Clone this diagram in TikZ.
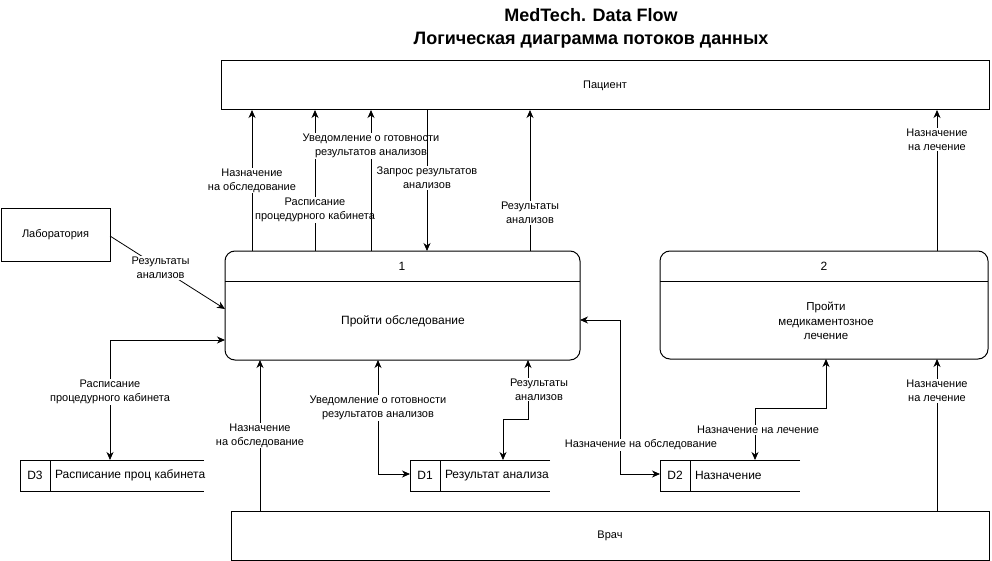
\documentclass[tikz,border=0pt]{standalone}
\usepackage{fontspec}
\setmainfont{Liberation Sans}
\usetikzlibrary{arrows.meta,calc}
\begin{document}
\begin{tikzpicture}[x=1pt,y=-1pt,
  every node/.style={font=\fontsize{11}{14}\selectfont, inner sep=0pt, outer sep=0pt},
  big/.style={font=\fontsize{12}{14}\selectfont},
  ext/.style={draw, line width=1pt, rectangle},
  proc/.style={draw, line width=1pt, rectangle, rounded corners=10pt},
  ghost/.style={rectangle},
  lab/.style={fill=white, align=center, inner sep=1pt},
  flow/.style={line width=0.8pt, -{Stealth[length=8pt,width=7pt,inset=2.5pt]}},
  flowboth/.style={line width=0.8pt, {Stealth[length=8pt,width=7pt,inset=2.5pt]}-{Stealth[length=8pt,width=7pt,inset=2.5pt]}},
  store/.style={line width=1pt}
]
\useasboundingbox (0,0) rectangle (992,561);

% title
\node[align=center, font=\fontsize{18}{23}\selectfont\bfseries] (title) at (591,28.5) {MedTech. Data Flow\\Логическая диаграмма потоков данных};

% externals
\node[ext, minimum width=768, minimum height=49] (pat) at (605,85.5) {Пациент};
\node[ext, minimum width=109, minimum height=52] (labr) at (55.5,235) {Лаборатория};
\node[ext, minimum width=758, minimum height=49] (vrach) at (610,535.5) {Врач};

% processes
\node[proc, minimum width=355, minimum height=109] (p1) at (402.5,305.5) {};
\draw[line width=1pt] (p1.west |- 0,281) -- (p1.east |- 0,281);
\node[big] (p1num) at (402,266) {1};
\node[big] (p1txt) at (403,321) {Пройти обследование};

\node[proc, minimum width=328, minimum height=108] (p2) at (824,305) {};
\draw[line width=1pt] (p2.west |- 0,281) -- (p2.east |- 0,281);
\node[big] (p2num) at (824,266) {2};
\node[align=center, font=\fontsize{11.5}{14.5}\selectfont] (p2txt) at (826,321) {Пройти\\медикаментозное\\лечение};

% data stores
\node[ghost, minimum width=184, minimum height=31] (d3) at (112,475.5) {};
\draw[store] (d3.north east) -- (d3.north west) -- (d3.south west) -- (d3.south east);
\draw[store] (50,460) -- (50,491);
\node[big] (d3id) at (35,475.5) {D3};
\node[big, anchor=west] (d3txt) at (55,475.5) {Расписание проц кабинета};

\node[ghost, minimum width=140, minimum height=31] (d1) at (480,475.5) {};
\draw[store] (d1.north east) -- (d1.north west) -- (d1.south west) -- (d1.south east);
\draw[store] (440,460) -- (440,491);
\node[big] (d1id) at (425,475.5) {D1};
\node[big, anchor=west] (d1txt) at (445,475.5) {Результат анализа};

\node[ghost, minimum width=140, minimum height=31] (d2) at (730,475.5) {};
\draw[store] (d2.north east) -- (d2.north west) -- (d2.south west) -- (d2.south east);
\draw[store] (690,460) -- (690,491);
\node[big] (d2id) at (675,475.5) {D2};
\node[big, anchor=west] (d2txt) at (695,475.5) {Назначение};

% flows between process 1 and patient
\draw[flow] (p1.north -| 252,0) -- node[lab, pos=0.5] {Назначение\\на обследование} (pat.south -| 252,0);
\draw[flow] (p1.north -| 315,0) -- node[lab, pos=0.29] {Расписание\\процедурного кабинета} (pat.south -| 315,0);
\draw[flow] (p1.north -| 371,0) -- node[lab, pos=0.745] {Уведомление о готовности\\результатов анализов} (pat.south -| 371,0);
\draw[flow] (pat.south -| 427,0) -- node[lab, pos=0.48] {Запрос результатов\\анализов} (p1.north -| 427,0);
\draw[flow] (p1.north -| 530,0) -- node[lab, pos=0.27] {Результаты\\анализов} (pat.south -| 530,0);

% laboratory
\draw[flow] (labr.east |- 0,236) -- node[lab, pos=0.44] {Результаты\\анализов} (p1.west |- 0,309);

% D3
\draw[flowboth] (d3.north -| 110,0) |- node[lab, pos=0.283] {Расписание\\процедурного кабинета} (p1.west |- 0,340);

% doctor to process 1
\draw[flow] (vrach.north -| 260,0) -- node[lab, pos=0.5] {Назначение\\на обследование} (p1.south -| 260,0);

% D1
\draw[flowboth] (p1.south -| 378,0) |- node[lab, pos=0.21] {Уведомление о готовности\\результатов анализов} (d1.west |- 0,474);
\draw[flowboth] (p1.south -| 528,0) -- node[lab, pos=0.5, xshift=11pt] {Результаты\\анализов} (528,419) -- (503,419) -- (d1.north -| 503,0);

% D2
\draw[flowboth] (p1.east |- 0,320) -- (620,320) -- node[lab, pos=0.81, xshift=21pt] {Назначение на обследование} (620,474) -- (d2.west |- 0,474);
\draw[flowboth] (d2.north -| 755,0) -- node[lab, pos=0.58, xshift=3pt] {Назначение на лечение} (755,408) -- (826,408) -- (p2.south -| 826,0);

% process 2
\draw[flow] (p2.north -| 937,0) -- node[lab, pos=0.79] {Назначение\\на лечение} (pat.south -| 937,0);
\draw[flow] (vrach.north -| 937,0) -- node[lab, pos=0.79] {Назначение\\на лечение} (p2.south -| 937,0);
\end{tikzpicture}
\end{document}
